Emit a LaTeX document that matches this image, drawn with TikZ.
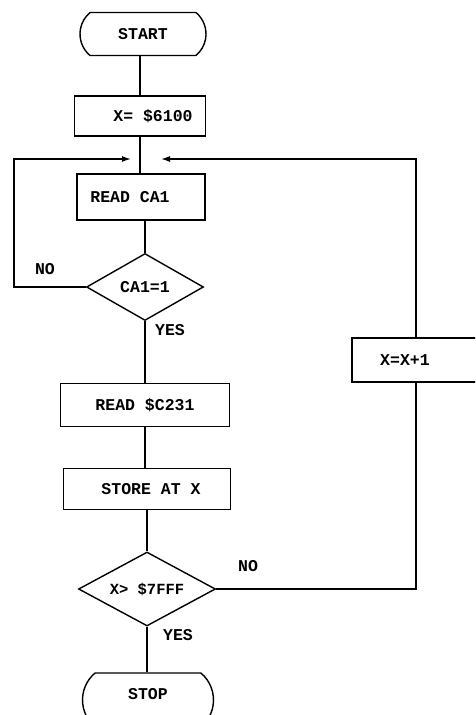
\documentclass[tikz,border=0pt]{standalone}
\usepackage{fontspec}
\setmainfont{Liberation Mono}
\usetikzlibrary{shapes.geometric,shapes.misc,arrows.meta}
\begin{document}
\begin{tikzpicture}[x=1pt,y=-1pt,line width=1.4pt,
  every node/.style={font=\fontsize{16.5}{18}\selectfont\bfseries},
  box/.style={draw,line width=1.4pt,rectangle,inner sep=0pt},
  term/.style={draw,line width=1.4pt,rounded rectangle,rounded rectangle arc length=100,inner sep=0pt},
  dec/.style={draw,line width=1.4pt,diamond,inner sep=0pt},
  lbl/.style={inner sep=0pt},
  arr/.style={-{Latex[length=9pt,width=6pt]}}]
\useasboundingbox (0,0) rectangle (475,715);
\clip (0,0) rectangle (475,715);
\node[term,minimum width=126pt,minimum height=43pt] (start) at (143,34) {START};
\node[box,minimum width=131pt,minimum height=40pt] (init) at (140,116) {\hspace*{26pt}X= \$6100};
\node[box,minimum width=128pt,minimum height=46pt] (read) at (141,197) {READ CA1\hspace*{22pt}};
\node[dec,aspect=1.75,minimum width=117pt,minimum height=67pt] (d1) at (145,287) {CA1=1};
\node[box,minimum width=169pt,minimum height=43pt] (readc) at (145,405) {READ \$C231};
\node[box,minimum width=167pt,minimum height=41pt] (store) at (147,489) {\hspace*{8pt}STORE AT X};
\node[dec,aspect=1.85,minimum width=137pt,minimum height=74pt,font=\fontsize{15.5}{17}\selectfont\bfseries] (d2) at (147,589) {X> \$7FFF};
\node[term,minimum width=131pt,minimum height=54pt,text depth=12pt] (stop) at (148,700) {STOP};
\node[box,minimum width=128pt,minimum height=44pt] (inc) at (416,360) {X=X+1\hspace*{22pt}};
\coordinate (jl) at (131,159);
\coordinate (jr) at (161,159);
\coordinate (noT) at (14,159);
\node[lbl] (no1) at (45,269) {NO};
\node[lbl] (yes1) at (170,330) {YES};
\node[lbl] (no2) at (248,566) {NO};
\node[lbl] (yes2) at (178,635) {YES};
\draw (start.south -| init.north) -- (init.north);
\draw (init.south) -- (init.south |- read.north);
\draw (d1.north |- read.south) -- (d1.north);
\draw (d1.south) -- (readc.north -| d1.south);
\draw (readc.south) -- (readc.south |- store.north);
\draw (d2.north |- store.south) -- (d2.north);
\draw (d2.south) -- (d2.south |- stop.north);
\draw[arr] (d1.west) -| (noT) -- (jl);
\draw (d2.east) -| (inc.south);
\draw[arr] (inc.north) |- (jr);
\end{tikzpicture}
\end{document}
